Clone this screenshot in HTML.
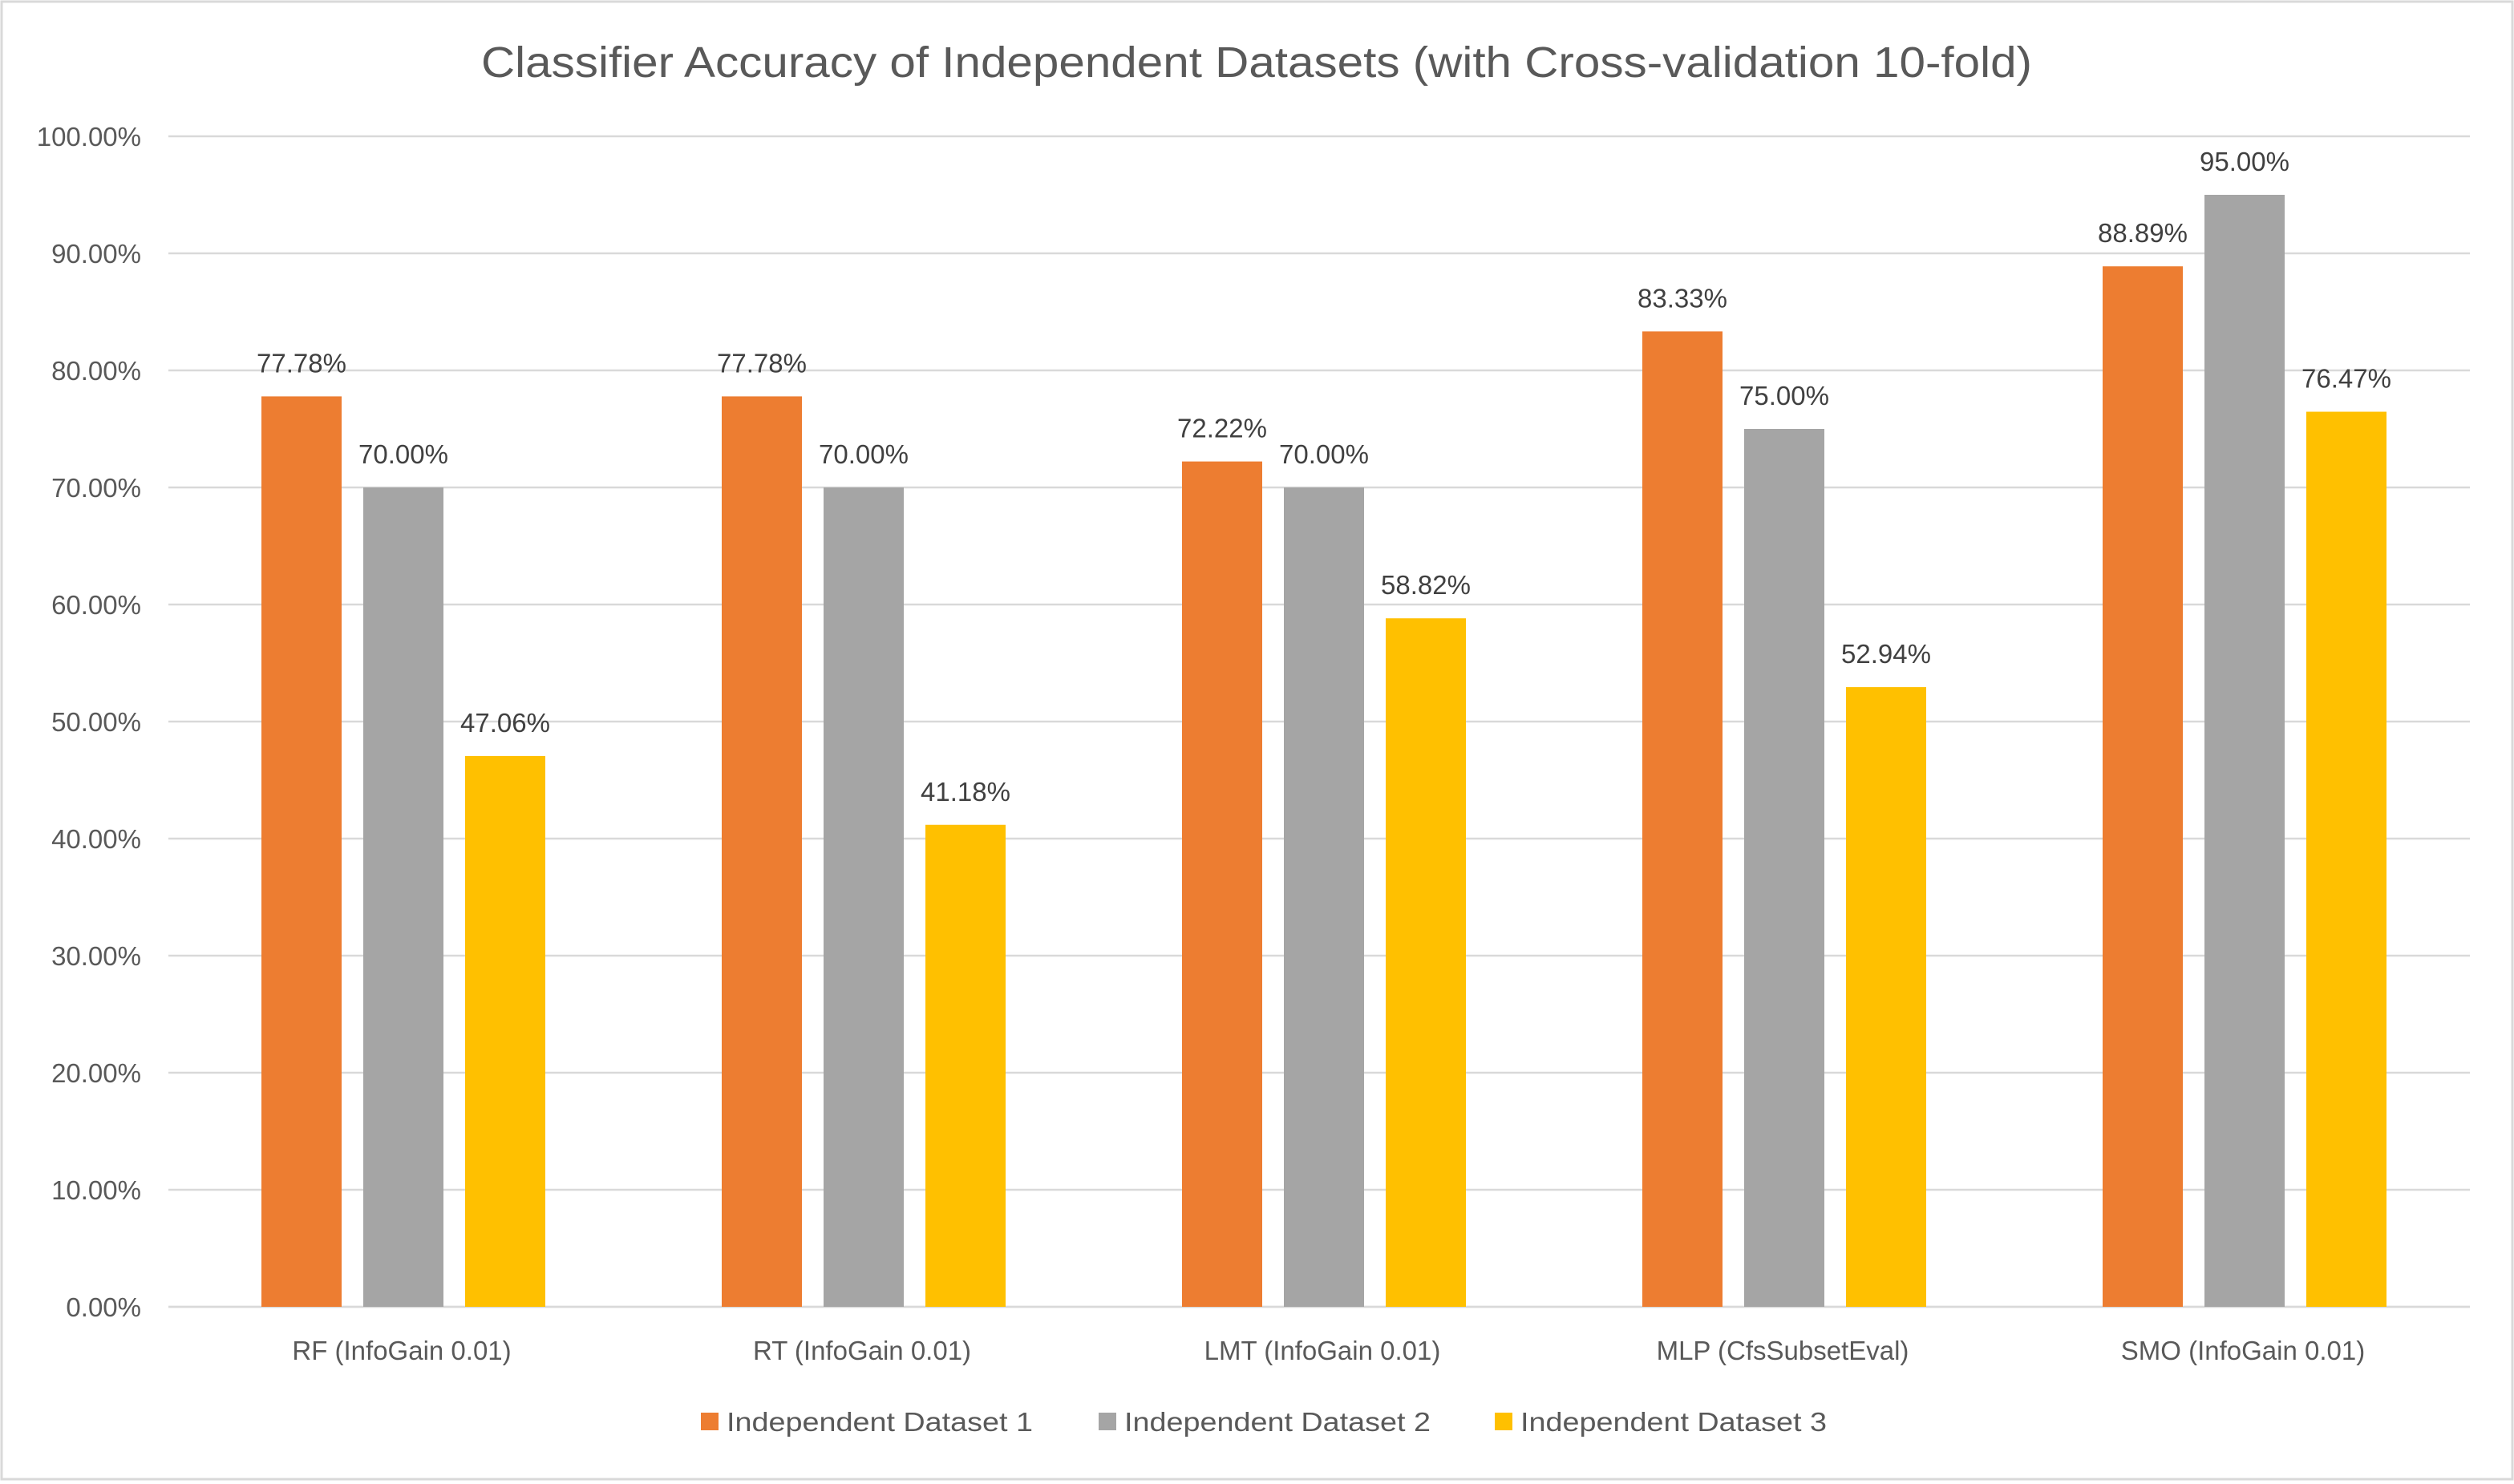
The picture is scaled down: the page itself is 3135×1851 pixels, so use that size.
<!DOCTYPE html>
<html><head><meta charset="utf-8"><style>
html,body{margin:0;padding:0;background:#fff;}
svg{display:block;font-family:"Liberation Sans",sans-serif;}
</style></head><body>
<svg id="chart" width="3135" height="1851" viewBox="0 0 3135 1851" xmlns="http://www.w3.org/2000/svg">
<rect x="2" y="2" width="3131" height="1843" fill="#fff" stroke="#d9d9d9" stroke-width="3"/>
<text x="1567" y="96" text-anchor="middle" font-size="54" fill="#595959" textLength="1934" lengthAdjust="spacingAndGlyphs">Classifier Accuracy of Independent Datasets (with Cross-validation 10-fold)</text>
<g id="grid"></g><g id="bars"></g><g id="labels"></g><g id="legend"></g>
</svg>
<script>
const categories = ["RF (InfoGain 0.01)","RT (InfoGain 0.01)","LMT (InfoGain 0.01)","MLP (CfsSubsetEval)","SMO (InfoGain 0.01)"];
const series1 = [77.78,77.78,72.22,83.33,88.89];
const series2 = [70.00,70.00,70.00,75.00,95.00];
const series3 = [47.06,41.18,58.82,52.94,76.47];
const seriesNames = ["Independent Dataset 1","Independent Dataset 2","Independent Dataset 3"];
const ticks = [0,10,20,30,40,50,60,70,80,90,100];

const NS="http://www.w3.org/2000/svg";
const colors=["#ed7d31","#a5a5a5","#ffc000"];
const L=210,R=3080,Y0=1630,Y100=170;
const y=v=>Y0-(v/100)*(Y0-Y100);
const catW=(R-L)/categories.length;
function mk(tag,attrs,parent,txt){const e=document.createElementNS(NS,tag);for(const k in attrs)e.setAttribute(k,attrs[k]);if(txt!==undefined)e.textContent=txt;parent.appendChild(e);return e;}
const grid=document.getElementById('grid'),bars=document.getElementById('bars'),labels=document.getElementById('labels'),legend=document.getElementById('legend');
ticks.forEach(t=>{
  const l=mk('line',{x1:L,x2:R,y1:y(t),y2:y(t),stroke:'#d9d9d9','stroke-width':2.5},grid);
  
  
  const tx=mk('text',{x:176,y:y(t)+12,'text-anchor':'end','font-size':33,fill:'#595959'},grid,t.toFixed(2)+'%');
  
  
});
const all=[series1,series2,series3];
const bw=100,step=127,off=(catW-(2*step+bw))/2+6;
categories.forEach((c,i)=>{
  all.forEach((s,j)=>{
    const x=L+i*catW+off+j*step;
    const r=mk('rect',{x:x,y:y(s[i]),width:bw,height:Y0-y(s[i]),fill:colors[j]},bars);
    
    
    const t=mk('text',{x:x+bw/2,y:y(s[i])-30,'text-anchor':'middle','font-size':33,fill:'#404040'},labels,s[i].toFixed(2)+'%');
    
    
  });
  const ct=mk('text',{x:L+(i+0.5)*catW+4,y:1696,'text-anchor':'middle','font-size':33,fill:'#595959'},labels,c);
  
  
});
mk('line',{x1:L,x2:R,y1:Y0,y2:Y0,stroke:'#d9d9d9','stroke-width':2.5},grid);
const lx=[874,1370,1864];
seriesNames.forEach((n,j)=>{
  const g=mk('g',{},legend);
  
  
  mk('rect',{x:lx[j],y:1762,width:22,height:22,fill:colors[j]},g);
  mk('text',{x:lx[j]+32,y:1785,'font-size':33,fill:'#595959',textLength:382,lengthAdjust:'spacingAndGlyphs'},g,n);
});
</script>
</body></html>
